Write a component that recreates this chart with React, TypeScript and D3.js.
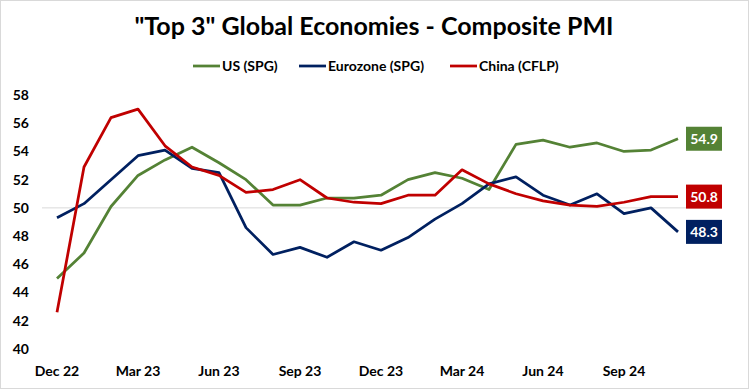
import React, { useEffect, useRef } from 'react';
import * as d3 from 'd3';

// monthly, Dec 22 .. Nov 24
const months = [
  'Dec 22', 'Jan 23', 'Feb 23', 'Mar 23', 'Apr 23', 'May 23', 'Jun 23', 'Jul 23',
  'Aug 23', 'Sep 23', 'Oct 23', 'Nov 23', 'Dec 23', 'Jan 24', 'Feb 24', 'Mar 24',
  'Apr 24', 'May 24', 'Jun 24', 'Jul 24', 'Aug 24', 'Sep 24', 'Oct 24', 'Nov 24',
];
const usPmi = [45.0, 46.8, 50.1, 52.3, 53.4, 54.3, 53.2, 52.0, 50.2, 50.2, 50.7, 50.7,
  50.9, 52.0, 52.5, 52.1, 51.3, 54.5, 54.8, 54.3, 54.6, 54.0, 54.1, 54.9];
const euroPmi = [49.3, 50.3, 52.0, 53.7, 54.1, 52.8, 52.5, 48.6, 46.7, 47.2, 46.5, 47.6,
  47.0, 47.9, 49.2, 50.3, 51.7, 52.2, 50.9, 50.2, 51.0, 49.6, 50.0, 48.3];
const chinaPmi = [42.6, 52.9, 56.4, 57.0, 54.4, 52.9, 52.3, 51.1, 51.3, 52.0, 50.7, 50.4,
  50.3, 50.9, 50.9, 52.7, 51.7, 51.0, 50.5, 50.2, 50.1, 50.4, 50.8, 50.8];
const seriesNames = ['US (SPG)', 'Eurozone (SPG)', 'China (CFLP)'];
const yTicks = [40, 42, 44, 46, 48, 50, 52, 54, 56, 58];
const xTickLabels = ['Dec 22', 'Mar 23', 'Jun 23', 'Sep 23', 'Dec 23', 'Mar 24', 'Jun 24', 'Sep 24'];

const colors = ['#548235', '#002060', '#C00000'];
const font = 'Lato, "Open Sans", sans-serif';

export default function App() {
  const svgRef = useRef<SVGSVGElement>(null);

  useEffect(() => {
    const width = 751;
    const height = 390;
    const svg = d3.select(svgRef.current)
      .attr('width', width)
      .attr('height', height);
    svg.selectAll('*').remove();

    svg.append('rect')
      .attr('x', 0.5).attr('y', 0.5)
      .attr('width', 748).attr('height', 388)
      .attr('fill', '#fff')
      .attr('stroke', '#d9d9d9');

    const x = d3.scalePoint<string>().domain(months).range([57, 678]);
    const y = d3.scaleLinear().domain([40, 58]).range([349, 95]);

    // title
    svg.append('text')
      .attr('x', 374).attr('y', 35)
      .attr('text-anchor', 'middle')
      .attr('font-family', font)
      .attr('font-weight', 'bold')
      .attr('font-size', 25)
      .attr('fill', '#000')
      .text('"Top 3" Global Economies - Composite PMI');

    // legend
    const legendX = [193, 299, 450];
    seriesNames.forEach((name, i) => {
      const g = svg.append('g').attr('transform', `translate(${legendX[i]},66)`);
      g.append('line')
        .attr('x1', 0).attr('x2', 27)
        .attr('stroke', colors[i]).attr('stroke-width', 2.75);
      g.append('text')
        .attr('x', 29).attr('y', 0)
        .attr('dy', '0.35em')
        .attr('font-family', font)
        .attr('font-weight', 'bold')
        .attr('font-size', 14)
        .attr('fill', '#000')
        .text(name);
    });

    // gridline at 50
    svg.append('line')
      .attr('x1', 42).attr('x2', 722)
      .attr('y1', y(50)).attr('y2', y(50))
      .attr('stroke', '#d9d9d9').attr('stroke-width', 1);

    // y axis labels
    svg.append('g')
      .selectAll('text')
      .data(yTicks)
      .join('text')
      .attr('x', 29)
      .attr('y', d => y(d))
      .attr('dy', '0.35em')
      .attr('text-anchor', 'end')
      .attr('font-family', font)
      .attr('font-weight', 'bold')
      .attr('font-size', 14)
      .attr('fill', '#000')
      .text(d => d);

    // x axis labels
    svg.append('g')
      .selectAll('text')
      .data(xTickLabels)
      .join('text')
      .attr('x', d => x(d) as number)
      .attr('y', 371)
      .attr('dy', '0.35em')
      .attr('text-anchor', 'middle')
      .attr('font-family', font)
      .attr('font-weight', 'bold')
      .attr('font-size', 14)
      .attr('fill', '#000')
      .text(d => d);

    const line = d3.line<number>()
      .x((_, i) => x(months[i]) as number)
      .y(d => y(d));

    const allSeries = [usPmi, euroPmi, chinaPmi];
    // US first, then Eurozone, China on top
    allSeries.forEach((s, i) => {
      svg.append('path')
        .datum(s)
        .attr('fill', 'none')
        .attr('stroke', colors[i])
        .attr('stroke-width', 2.75)
        .attr('stroke-linejoin', 'round')
        .attr('d', line);
    });

    // end labels
    allSeries.forEach((s, i) => {
      const v = s[s.length - 1];
      const cy = y(v);
      svg.append('rect')
        .attr('x', 686).attr('y', cy - 12)
        .attr('width', 36).attr('height', 24)
        .attr('fill', colors[i]);
      svg.append('text')
        .attr('x', 704).attr('y', cy)
        .attr('dy', '0.36em')
        .attr('text-anchor', 'middle')
        .attr('font-family', font)
        .attr('font-weight', 'bold')
        .attr('font-size', 14)
        .attr('fill', '#fff')
        .text(v.toFixed(1));
    });
  }, []);

  return (
    <div style={{ position: 'absolute', left: 0, top: 0 }}>
      <svg ref={svgRef} style={{ display: 'block' }}></svg>
    </div>
  );
}
